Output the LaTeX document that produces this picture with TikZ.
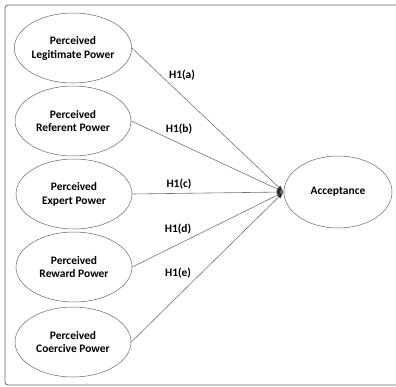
\documentclass[tikz,border=0pt]{standalone}
\usepackage{fontspec}
\setmainfont{Carlito}
\usetikzlibrary{arrows.meta,shapes.geometric}
\begin{document}
\begin{tikzpicture}[x=1bp,y=-1bp,
  construct/.style={draw=black!60,line width=0.5bp,ellipse,minimum width=116bp,minimum height=70bp,inner sep=0pt,align=center,font=\fontsize{11.5}{14}\selectfont\bfseries},
  conn/.style={draw=black!55,line width=0.6bp,-{Latex[length=7bp,width=5bp,fill=black]}},
  hyp/.style={font=\fontsize{11.5}{13}\selectfont\bfseries}]
\useasboundingbox (0,0) rectangle (396,387);
\begin{scope}
\clip (0,0) rectangle (396,387);
\draw[black!60,line width=0.8bp,rounded corners=3bp] (5,5) rectangle (402,385);
\end{scope}
\node[construct] (leg) at (73,48) {Perceived\\Legitimate Power};
\node[construct] (ref) at (73,121) {Perceived\\Referent Power};
\node[construct] (exp) at (74,194) {Perceived\\Expert Power};
\node[construct] (rew) at (74,267) {Perceived\\Reward Power};
\node[construct] (coe) at (73,342) {Perceived\\Coercive Power};
\node[construct,minimum width=108bp,minimum height=72bp] (acc) at (338,192) {Acceptance};
\draw[conn] (leg.east) -- (acc.west);
\draw[conn] (ref.east) -- (acc.west);
\draw[conn] (exp.east) -- (acc.west);
\draw[conn] (rew.east) -- (acc.west);
\draw[conn] (coe.east) -- (acc.west);
\node[hyp] (ha) at (182,75) {H1(a)};
\node[hyp] (hb) at (179,129) {H1(b)};
\node[hyp] (hc) at (179,184) {H1(c)};
\node[hyp] (hd) at (178,229) {H1(d)};
\node[hyp] (he) at (178,273) {H1(e)};
\end{tikzpicture}
\end{document}
